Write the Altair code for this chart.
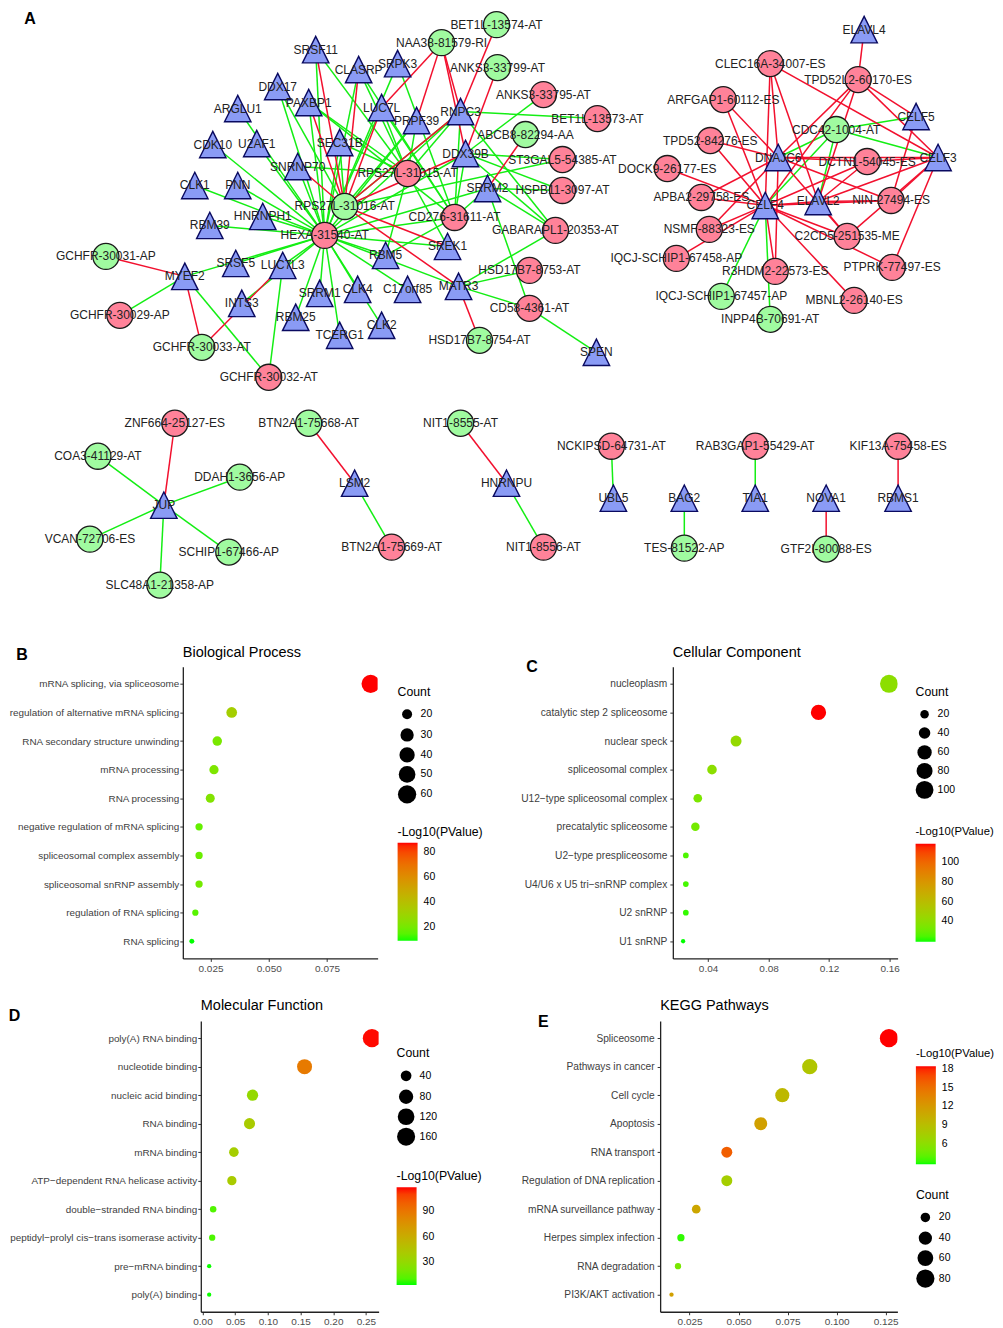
import altair as alt
import pandas as pd

FONT = "Liberation Sans"
RED_LINE = "#f2102e"
GREEN_LINE = "#14ee14"
PINK = "#ff8299"
MINT = "#a0fba0"
BLUE = "#8a9bf5"
TRI = "M0,-1L1,1L-1,1Z"

# ---------- Network nodes (layout coordinates)
RBP_NODES = [("SRSF11",315,48),("DDX17",277,85),("PAXBP1",308,101),("ARGLU1",237,107),("CDK10",212,143),
 ("U2AF1",256,142),("SNRNP70",297,165),("CLK1",194,184),("PNN",237,184),("HNRNPH1",262,215),("RBM39",209,224),
 ("SRSF5",235,262),("LUC7L3",282,264),("MYEF2",184,275),("INTS3",241,302),("SRRM1",319,292),("RBM25",295,316),
 ("TCERG1",339,334),("SEC31B",339,141),("CLASRP",358,68),("SRPK3",397,62),("LUC7L",381,106),("PRPF39",416,119),
 ("RNPC3",460,110),("DDX39B",465,152),("SRRM2",487,187),("SREK1",447,245),("RBM5",385,254),("CLK4",357,288),
 ("C17orf85",407,288),("MATR3",458,285),("CLK2",381,324),("SPEN",596,351),
 ("ELAVL4",864,28),("CELF5",916,115),("DNAJC6",778,156),("CELF3",938,156),("CELF4",765,204),("ELAVL2",818,200),
 ("JUP",163,504),("LSM2",354,482),("HNRNPU",506,482),("UBL5",613,497),("BAG2",684,497),("TIA1",755,497),
 ("NOVA1",826,497),("RBMS1",898,497)]
UP_NODES = [("GCHFR-30029-AP",119,314),("GCHFR-30032-AT",268,376),("HEXA-31540-AT",324,234),
 ("RPS27L-31015-AT",407,172),("CD276-31611-AT",454,216),("ANKS3-33795-AT",543,93),("BET1L-13573-AT",597,117),
 ("ST3GAL5-54385-AT",562,158),("HSPB11-3097-AT",562,189),("GABARAPL1-20353-AT",555,229),("HSD17B7-8753-AT",529,269),
 ("CD58-4361-AT",529,307),("CLEC16A-34007-ES",770,62),("TPD52L2-60170-ES",858,78),("ARFGAP1-60112-ES",723,98),
 ("TPD52-84276-ES",710,139),("DCTN1-54045-ES",867,160),("DOCK9-26177-ES",667,167),("APBA2-29758-ES",701,196),
 ("NIN-27494-ES",891,199),("NSMF-88323-ES",709,228),("C2CD5-251535-ME",847,235),("IQCJ-SCHIP1-67458-AP",676,257),
 ("R3HDM2-22573-ES",775,270),("PTPRK-77497-ES",892,266),("MBNL2-26140-ES",854,299),("ZNF664-25127-ES",174,422),
 ("BTN2A1-75669-AT",391,546),("NIT1-8556-AT",543,546),("NCKIPSD-64731-AT",611,445),("RAB3GAP1-55429-AT",755,445),
 ("KIF13A-75458-ES",898,445)]
DOWN_NODES = [("GCHFR-30031-AP",105,255),("GCHFR-30033-AT",201,346),("RPS27L-31016-AT",344,205),("BET1L-13574-AT",496,23),
 ("NAA38-81579-RI",441,41),("ANKS3-33799-AT",497,66),("ABCB8-82294-AA",525,133),("HSD17B7-8754-AT",479,339),
 ("CDC42-1004-AT",836,128),("IQCJ-SCHIP1-67457-AP",721,295),("INPP4B-70691-AT",770,318),("COA3-41129-AT",97,455),
 ("DDAH1-3656-AP",239,476),("VCAN-72706-ES",89,538),("SCHIP1-67466-AP",228,551),("SLC48A1-21358-AP",159,584),
 ("BTN2A1-75668-AT",308,422),("NIT1-8555-AT",460,422),("TES-81522-AP",684,547),("GTF2I-80088-ES",826,548)]

HEXA = "HEXA-31540-AT"
R16 = "RPS27L-31016-AT"
R15 = "RPS27L-31015-AT"
CD = "CD276-31611-AT"
GREEN_EDGES = [(HEXA, n) for n in ["SRSF11","DDX17","PAXBP1","ARGLU1","CDK10","U2AF1","SNRNP70","CLK1","PNN","HNRNPH1",
  "RBM39","SRSF5","LUC7L3","INTS3","SRRM1","RBM25","TCERG1","SEC31B","CLASRP","LUC7L","PRPF39","RNPC3","DDX39B",
  "SREK1","RBM5","CLK4","C17orf85","MATR3","CLK2","MYEF2","SRRM2",CD]]
GREEN_EDGES += [(R15, n) for n in ["SNRNP70","SRSF11","PAXBP1","CLASRP","LUC7L","PRPF39","RNPC3","RBM5","SREK1","SEC31B"]]
GREEN_EDGES += [(CD, n) for n in ["LUC7L","SRPK3","RNPC3","DDX39B","SRRM2","RBM5","PAXBP1","CLASRP"]]
GREEN_EDGES += [(R16, n) for n in ["PRPF39","RNPC3","DDX17","SEC31B"]]
GREEN_EDGES += [("SRPK3",HEXA),("ANKS3-33795-AT","DDX39B"),("BET1L-13573-AT","RNPC3"),("ST3GAL5-54385-AT","DDX39B"),
  ("ST3GAL5-54385-AT",R16),("HSPB11-3097-AT","DDX39B"),("HSPB11-3097-AT","SRRM2"),("GABARAPL1-20353-AT","RNPC3"),
  ("GABARAPL1-20353-AT","DDX39B"),("GABARAPL1-20353-AT","SRRM2"),("GABARAPL1-20353-AT","MATR3"),
  ("HSD17B7-8753-AT","MATR3"),("CD58-4361-AT","MATR3"),("CD58-4361-AT","SRRM2"),("CD58-4361-AT","SPEN"),
  ("GCHFR-30029-AP","MYEF2"),("GCHFR-30032-AT","MYEF2"),("GCHFR-30032-AT","LUC7L3"),
  ("CDC42-1004-AT","DNAJC6"),("CDC42-1004-AT","CELF4"),("CDC42-1004-AT","ELAVL2"),("CDC42-1004-AT","CELF5"),
  ("CDC42-1004-AT","CELF3"),("INPP4B-70691-AT","CELF4"),("IQCJ-SCHIP1-67457-AP","CELF4"),
  ("COA3-41129-AT","JUP"),("DDAH1-3656-AP","JUP"),("VCAN-72706-ES","JUP"),("SCHIP1-67466-AP","JUP"),
  ("SLC48A1-21358-AP","JUP"),("BTN2A1-75669-AT","LSM2"),("NIT1-8556-AT","HNRNPU"),("NCKIPSD-64731-AT","UBL5"),
  ("TES-81522-AP","BAG2"),("RAB3GAP1-55429-AT","TIA1")]
RED_EDGES = [(R16, n) for n in ["SRSF11","PAXBP1","SNRNP70","CLASRP","LUC7L","RNPC3","DDX39B","SREK1","MATR3"]]
RED_EDGES += [("NAA38-81579-RI",n) for n in ["LUC7L","PRPF39","RNPC3","DDX39B"]]
RED_EDGES += [("BET1L-13574-AT","RNPC3"),("ANKS3-33799-AT","DDX39B"),("ABCB8-82294-AA","SRRM2"),
  ("HSD17B7-8754-AT","MATR3"),("GCHFR-30031-AP","MYEF2"),("GCHFR-30033-AT","MYEF2"),("GCHFR-30033-AT","LUC7L3"),
  ("ELAVL4","TPD52L2-60170-ES"),("CLEC16A-34007-ES","CELF4"),("CLEC16A-34007-ES","DNAJC6"),("CLEC16A-34007-ES","ELAVL2"),
  ("CLEC16A-34007-ES","CELF3"),("TPD52L2-60170-ES","DNAJC6"),("TPD52L2-60170-ES","CELF4"),("TPD52L2-60170-ES","ELAVL2"),
  ("TPD52L2-60170-ES","CELF5"),("TPD52L2-60170-ES","CELF3"),("ARFGAP1-60112-ES","CELF4"),("ARFGAP1-60112-ES","DNAJC6"),
  ("TPD52-84276-ES","DNAJC6"),("TPD52-84276-ES","CELF4"),("DOCK9-26177-ES","CELF4"),("APBA2-29758-ES","CELF4"),
  ("APBA2-29758-ES","DNAJC6"),("NSMF-88323-ES","CELF4"),("NSMF-88323-ES","DNAJC6"),("IQCJ-SCHIP1-67458-AP","CELF4"),
  ("R3HDM2-22573-ES","CELF4"),("R3HDM2-22573-ES","DNAJC6"),("MBNL2-26140-ES","CELF4"),("PTPRK-77497-ES","CELF4"),
  ("PTPRK-77497-ES","CELF3"),("C2CD5-251535-ME","CELF4"),("C2CD5-251535-ME","DNAJC6"),("C2CD5-251535-ME","CELF3"),
  ("C2CD5-251535-ME","ELAVL2"),("NIN-27494-ES","CELF4"),("NIN-27494-ES","ELAVL2"),("NIN-27494-ES","DNAJC6"),
  ("NIN-27494-ES","CELF3"),("NIN-27494-ES","CELF5"),("DCTN1-54045-ES","CELF4"),("DCTN1-54045-ES","ELAVL2"),
  ("DCTN1-54045-ES","DNAJC6"),("DCTN1-54045-ES","CELF3"),("DNAJC6","CELF3"),("ELAVL2","CELF3"),("CELF4","ELAVL2"),
  ("ZNF664-25127-ES","JUP"),("BTN2A1-75668-AT","LSM2"),("NIT1-8555-AT","HNRNPU"),("GTF2I-80088-ES","NOVA1"),
  ("KIF13A-75458-ES","RBMS1")]

# ---------- Dot plots
BP_TERMS = ["mRNA splicing, via spliceosome","regulation of alternative mRNA splicing","RNA secondary structure unwinding",
 "mRNA processing","RNA processing","negative regulation of mRNA splicing","spliceosomal complex assembly",
 "spliceosomal snRNP assembly","regulation of RNA splicing","RNA splicing"]
BP_RATIO = [.0937,.0341,.0279,.0265,.0249,.0201,.0201,.0201,.0185,.017]
BP_COUNT = [60,22,18,17,16,13,13,13,12,11]
BP_LOGP = [87.5,33,21,22,23,17,18,20,15,9.4]

CC_TERMS = ["nucleoplasm","catalytic step 2 spliceosome","nuclear speck","spliceosomal complex","U12\u2212type spliceosomal complex",
 "precatalytic spliceosome","U2\u2212type prespliceosome","U4/U6 x U5 tri\u2212snRNP complex","U2 snRNP","U1 snRNP"]
CC_RATIO = [.1596,.113,.0585,.0426,.0332,.0316,.0253,.0253,.0253,.0235]
CC_COUNT = [102,72,37,27,21,20,16,16,16,15]
CC_LOGP = [40,118.5,43,40,35,33,25,24,22,19.5]

MF_TERMS = ["poly(A) RNA binding","nucleotide binding","nucleic acid binding","RNA binding","mRNA binding",
 "ATP\u2212dependent RNA helicase activity","double\u2212stranded RNA binding","peptidyl\u2212prolyl cis\u2212trans isomerase activity",
 "pre\u2212mRNA binding","poly(A) binding"]
MF_RATIO = [.2592,.1561,.0765,.0719,.048,.0449,.0163,.0148,.0102,.0102]
MF_COUNT = [166,100,49,46,31,29,11,10,7,7]
MF_LOGP = [118,88,30,40,38,40,10,9,3,3]

KG_TERMS = ["Spliceosome","Pathways in cancer","Cell cycle","Apoptosis","RNA transport","Regulation of DNA replication",
 "mRNA surveillance pathway","Herpes simplex infection","RNA degradation","PI3K/AKT activation"]
KG_RATIO = [.1267,.0863,.0723,.0613,.044,.044,.0284,.0206,.0191,.0158]
KG_COUNT = [81,55,46,39,28,28,18,13,12,10]
KG_LOGP = [18.5,8.3,9.5,11.5,16,7.5,11,3,5,11.5]


def frame(nodes):
    return pd.DataFrame({"name": [n[0] for n in nodes], "x": [n[1] for n in nodes], "y": [n[2] for n in nodes]})

POS = {n[0]: (n[1], n[2]) for n in RBP_NODES + UP_NODES + DOWN_NODES}

def edge_frame(edges):
    return pd.DataFrame([{"x": POS[a][0], "y": POS[a][1], "x2": POS[b][0], "y2": POS[b][1]} for a, b in edges])

NET_H = 301.3
xs = alt.Scale(domain=[8, 995], nice=False, zero=False)
ys = alt.Scale(domain=[9, 9 + NET_H], reverse=True, nice=False, zero=False)
X = alt.X("x:Q", scale=xs, axis=None)
Y = alt.Y("y:Q", scale=ys, axis=None)

def edges_layer(edges, col):
    return alt.Chart(edge_frame(edges)).mark_rule(color=col, strokeWidth=1.5).encode(x=X, y=Y, x2="x2:Q", y2="y2:Q")

up = alt.Chart(frame(UP_NODES)).mark_point(shape="circle", size=680, filled=True, fill=PINK, stroke="#1a1a1a", strokeWidth=1.3, opacity=1).encode(x=X, y=Y)
down = alt.Chart(frame(DOWN_NODES)).mark_point(shape="circle", size=680, filled=True, fill=MINT, stroke="#1a1a1a", strokeWidth=1.3, opacity=1).encode(x=X, y=Y)
rbp = alt.Chart(frame(RBP_NODES)).mark_point(shape=TRI, size=700, filled=True, fill=BLUE, stroke="#0a0a60", strokeWidth=1.4, opacity=1).encode(x=X, y=Y)
labels = alt.Chart(frame(RBP_NODES + UP_NODES + DOWN_NODES)).mark_text(font=FONT, fontSize=12, color="#222222").encode(x=X, y=Y, text="name:N")

def letter(t, px, py):
    return alt.Chart(pd.DataFrame({"t": [t]})).mark_text(font=FONT, fontSize=16, fontWeight="bold", color="black").encode(
        x=alt.value(px), y=alt.value(py), text="t:N")

def heading(t, py):
    return alt.Chart(pd.DataFrame({"t": [t]})).mark_text(font=FONT, fontSize=14.5, fontWeight="normal", color="black", align="left").encode(
        x=alt.value(0), y=alt.value(py), text="t:N")

net = alt.layer(edges_layer(GREEN_EDGES, GREEN_LINE), edges_layer(RED_EDGES, RED_LINE), down, up, rbp, labels,
                letter("A", 21, 8)).properties(width=987, height=NET_H)


def panel(title, terms, ratio, count, logp, xdom, xticks, xfmt, w, h, count_stops, diam_stops, count_vals, cdom, cvals,
          lx, size_y, color_y, lab, lab_x, lab_y, label_size, label_pad, title_y, ctitle=12.3, cpad=5):
    df = pd.DataFrame({"term": terms, "ratio": ratio, "Count": count, "logp": logp})
    pts = alt.Chart(df).mark_circle(opacity=1, clip=True).encode(
        x=alt.X("ratio:Q", title=None, scale=alt.Scale(domain=xdom, nice=False, zero=False),
                axis=alt.Axis(values=xticks, format=xfmt, grid=False, tickSize=3, tickColor="#333333", domainColor="#222222",
                              domainWidth=1.3, labelColor="#4d4d4d", labelFontSize=10, labelFont=FONT, labelPadding=2,
                              labelOverlap=False, labelFlush=False)),
        y=alt.Y("term:N", sort=terms, title=None, scale=alt.Scale(type="point", padding=0.6, domain=terms),
                axis=alt.Axis(grid=False, tickSize=3, tickColor="#333333", domainColor="#222222", domainWidth=1.3,
                              labelColor="#404040", labelFontSize=label_size, labelFont=FONT, labelPadding=label_pad,
                              labelLimit=400)),
        size=alt.Size("Count:Q", scale=alt.Scale(domain=count_stops, range=[d * d for d in diam_stops]),
                      legend=alt.Legend(orient="none", legendX=lx, legendY=size_y, title="Count", values=count_vals,
                                        symbolType="circle", symbolFillColor="black", symbolStrokeWidth=0, symbolOpacity=1,
                                        titleFont=FONT, titleFontSize=12.3, titleFontWeight="normal", titleColor="black",
                                        labelFont=FONT, labelFontSize=10.5, labelColor="black", rowPadding=-0.7, gridAlign="all",
                                        titlePadding=11)),
        color=alt.Color("logp:Q", scale=alt.Scale(domain=cdom, range=["#00ff00", "#ff0000"], interpolate="lab", nice=False, zero=False),
                        legend=alt.Legend(orient="none", legendX=lx, legendY=color_y, title="-Log10(PValue)", type="gradient",
                                          values=cvals, gradientLength=98, gradientThickness=20, gradientStrokeWidth=0,
                                          titleFont=FONT, titleFontSize=ctitle, titleFontWeight="normal", titleColor="black",
                                          labelFont=FONT, labelFontSize=10.5, labelColor="black", titlePadding=cpad, labelOverlap=False,
                                          labelOffset=6)),
    )
    return alt.layer(pts, heading(title, title_y), letter(lab, lab_x, lab_y)).resolve_scale(size="independent", color="independent").properties(
        width=w, height=h)


B = panel("Biological Process", BP_TERMS, BP_RATIO, BP_COUNT, BP_LOGP, [.01313, .0967], [.025, .05, .075], ".3f", 195, 292,
          [11, 13, 16, 20, 30, 40, 50, 60], [5, 7.3, 9, 10, 13.3, 15.3, 16.7, 18.3], [20, 30, 40, 50, 60],
          [9.4, 87.5], [20, 40, 60, 80], 215, 19, 159, "B", -161, -12, 9.9, 1, -13.5)
C = panel("Cellular Component", CC_TERMS, CC_RATIO, CC_COUNT, CC_LOGP, [.0167, .1653], [.04, .08, .12, .16], ".2f", 225, 292,
          [15, 16, 20, 37, 60, 72, 80, 102], [4.3, 5.7, 8.5, 11, 14.3, 15.3, 16, 18], [20, 40, 60, 80, 100],
          [19.5, 118.5], [40, 60, 80, 100], 243, 19, 159, "C", -141, 0, 10.2, 3, -13.5, 11.3, 7)
D = panel("Molecular Function", MF_TERMS, MF_RATIO, MF_COUNT, MF_LOGP, [-.0026, .2694], [0, .05, .1, .15, .2, .25], ".2f", 178, 291,
          [7, 10, 29, 40, 49, 80, 100, 120, 166], [4.3, 6.3, 9.3, 10.7, 11.3, 14.3, 15, 16.7, 18.3], [40, 80, 120, 160],
          [2.7, 118.5], [30, 60, 90], 196, 26, 149, "D", -186.5, -5, 9.9, 1, -15.5)
E = panel("KEGG Pathways", KG_TERMS, KG_RATIO, KG_COUNT, KG_LOGP, [.01, .131], [.025, .05, .075, .1, .125], ".3f", 237.5, 291,
          [10, 12, 13, 18, 20, 28, 39, 40, 55, 60, 81], [4.3, 6.3, 7.3, 8.7, 9.5, 11, 13, 13.3, 15.3, 15.8, 18.3], [20, 40, 60, 80],
          [2.67, 18.48], [6, 9, 12, 15, 18], 256, 168, 27, "E", -117, 1, 10.2, 3, -15.5, 11.3, 7)

def spacer(w):
    return alt.Chart(pd.DataFrame({"a": [0]})).mark_point(opacity=0, size=1).encode(x=alt.value(30), y=alt.value(5)).properties(width=w, height=1)

IND = dict(size="independent", color="independent")
row1 = alt.hconcat(spacer(174), alt.hconcat(B, C, spacing=295.5, bounds="flush").resolve_scale(**IND), spacing=0, bounds="flush").resolve_scale(**IND)
row2 = alt.hconcat(spacer(191.5), alt.hconcat(D, E, spacing=281.8, bounds="flush").resolve_scale(**IND), spacing=0, bounds="flush").resolve_scale(**IND)
chart = alt.vconcat(net, row1, row2, spacing=354.7, bounds="flush").resolve_scale(**IND).properties(padding=0).configure(font=FONT, view=alt.ViewConfig(stroke=None))

chart.save("out.html", embed_options={"renderer": "svg", "actions": False})
